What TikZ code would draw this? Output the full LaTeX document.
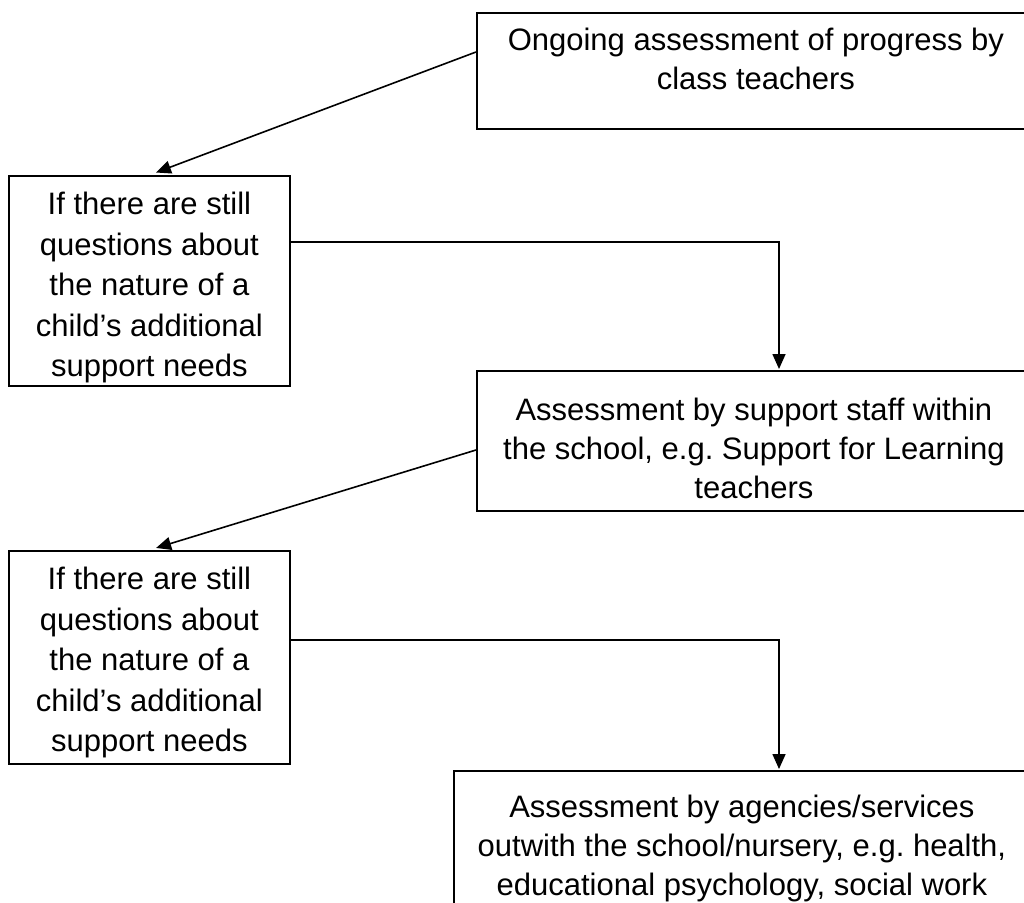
\documentclass[tikz,border=0pt]{standalone}
\usepackage{fontspec}
\setmainfont{Liberation Sans}
\usetikzlibrary{arrows.meta}
\frenchspacing
\newcommand\bxtext[5]{\parbox[c][#2][t]{#1}{\centering\fontsize{31}{#5}\selectfont\rule{0pt}{#3}#4\par}}
\begin{document}
\begin{tikzpicture}[x=1pt,y=-1pt,
  fbox/.style={draw=black, line width=1.8pt, inner sep=0pt, anchor=north west},
  conn/.style={draw=black, line width=1.6pt},
  arr/.style={conn, -{Triangle[width=13pt,length=15pt]}}]
\useasboundingbox (0,0) rectangle (1024,902);
\clip (0,0) rectangle (1024,902);
\fill[white] (0,0) rectangle (1024,902);
\node[fbox] (b1) at (476,12) {\bxtext{558pt}{116pt}{38pt}{Ongoing assessment of progress by\\class teachers}{39}};
\node[fbox] (b2) at (8,175) {\bxtext{281pt}{210pt}{39pt}{If there are still\\questions about\\the nature of a\\child’s additional\\support needs}{40.5}};
\node[fbox] (b3) at (476,370) {\bxtext{554pt}{140pt}{50pt}{Assessment by support staff within\\the school, e.g. Support for Learning\\teachers}{39}};
\node[fbox] (b4) at (8,550) {\bxtext{281pt}{213pt}{39pt}{If there are still\\questions about\\the nature of a\\child’s additional\\support needs}{40.5}};
\node[fbox] (b5) at (453,770) {\bxtext{576pt}{160pt}{47pt}{Assessment by agencies/services\\outwith the school/nursery, e.g. health,\\educational psychology, social work}{39}};
\coordinate (c1) at (779,242);
\coordinate (c2) at (779,640);
\draw[arr, shorten >=7pt] ([yshift=-40pt]b1.north west) -- (b2.north);
\draw[arr, shorten >=1pt] (b2.east |- c1) -- (c1) -- (b3.north -| c1);
\draw[arr, shorten >=7pt] ([yshift=-80pt]b3.north west) -- (b4.north);
\draw[arr, shorten >=1pt] (b4.east |- c2) -- (c2) -- (b5.north -| c2);
\end{tikzpicture}
\end{document}
